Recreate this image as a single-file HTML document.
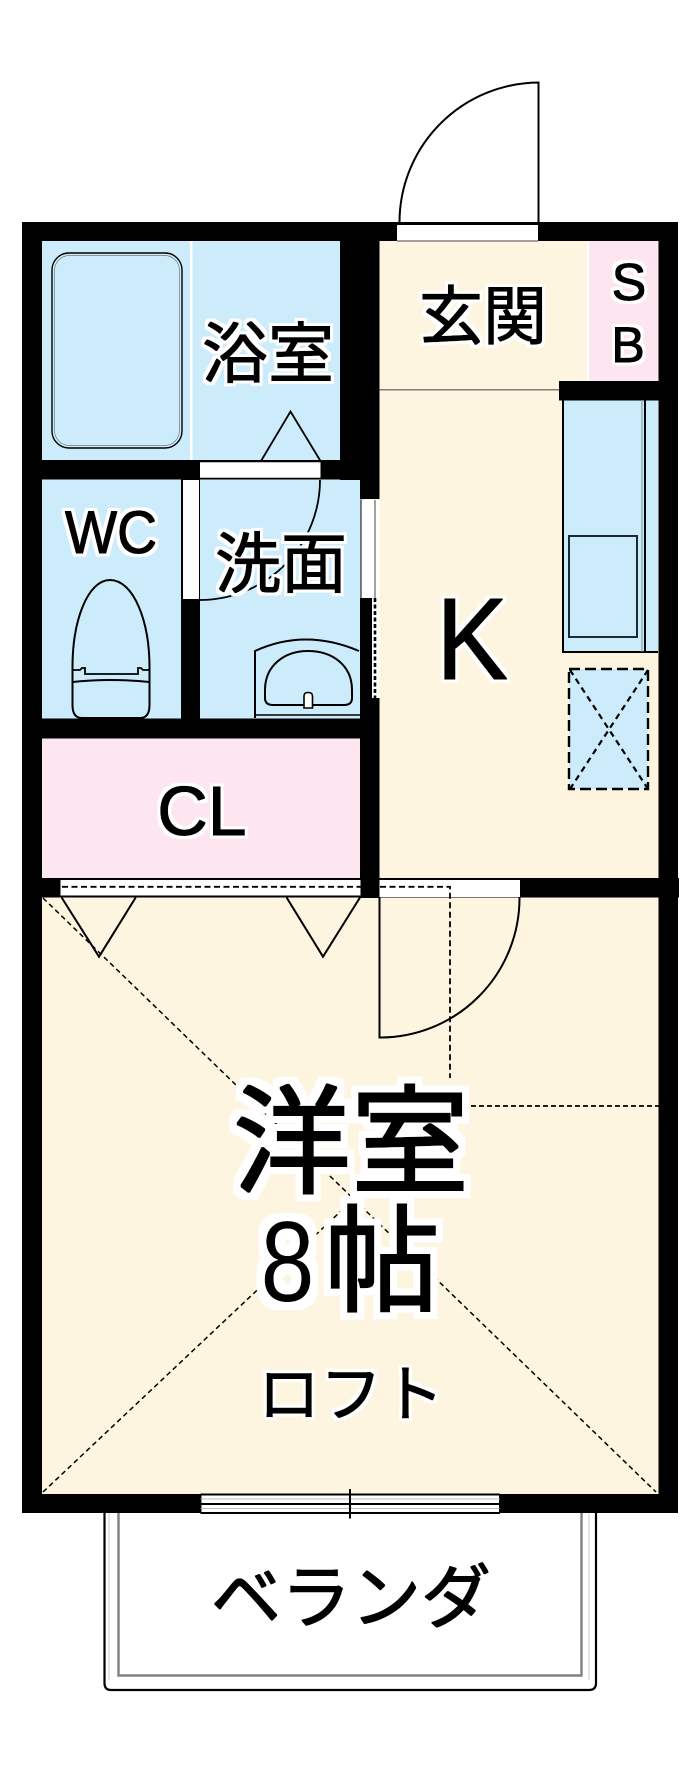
<!DOCTYPE html>
<html lang="ja">
<head>
<meta charset="utf-8">
<title>間取り図</title>
<style>
html,body{margin:0;padding:0;background:#fff}
svg{display:block}
text{font-family:"Liberation Sans","Noto Sans CJK JP",sans-serif;fill:#000}
</style>
</head>
<body>
<svg xmlns="http://www.w3.org/2000/svg" width="700" height="1765" viewBox="0 0 700 1765">
<defs>
<filter id="hs" x="-20%" y="-30%" width="140%" height="160%">
<feMorphology in="SourceAlpha" operator="dilate" radius="3.5" result="d"/>
<feFlood flood-color="#fff"/><feComposite in2="d" operator="in" result="halo"/>
<feMorphology in="SourceGraphic" operator="dilate" radius="0.5" result="b"/>
<feMerge><feMergeNode in="halo"/><feMergeNode in="b"/></feMerge>
</filter>
<filter id="hl" x="-20%" y="-30%" width="140%" height="160%">
<feMorphology in="SourceAlpha" operator="dilate" radius="8" result="d"/>
<feFlood flood-color="#fff"/><feComposite in2="d" operator="in" result="halo"/>
<feMorphology in="SourceGraphic" operator="dilate" radius="1" result="b"/>
<feMerge><feMergeNode in="halo"/><feMergeNode in="b"/></feMerge>
</filter>
<filter id="h8" x="-40%" y="-30%" width="180%" height="160%">
<feMorphology in="SourceAlpha" operator="dilate" radius="8" result="d"/>
<feFlood flood-color="#fff"/><feComposite in2="d" operator="in" result="halo"/>
<feMerge><feMergeNode in="halo"/><feMergeNode in="SourceGraphic"/></feMerge>
</filter>
<filter id="hn" x="-10%" y="-20%" width="120%" height="140%">
<feMorphology in="SourceGraphic" operator="dilate" radius="0.5"/>
</filter>
</defs>
<rect width="700" height="1765" fill="#fff"/>

<!-- room fills -->
<rect x="30" y="230" width="640" height="1275" fill="#fef5e1"/>
<rect x="30" y="230" width="335" height="490" fill="#cdecfb"/>
<rect x="30" y="730" width="340" height="155" fill="#fde6ef"/>
<rect x="589" y="241" width="70" height="145" fill="#fde6ef"/>
<rect x="587" y="241" width="2" height="145" fill="#fff"/>
<rect x="190" y="241" width="2.5" height="220" fill="#fff"/>
<rect x="563" y="400" width="95" height="252" fill="#cdecfb"/>
<rect x="569" y="669" width="79" height="120" fill="#cdecfb"/>

<!-- walls -->
<g fill="#000">
<rect x="22" y="222" width="656" height="19"/>
<rect x="22" y="222" width="20" height="1291"/>
<rect x="658.5" y="222" width="19.5" height="1291"/>
<rect x="22" y="1494" width="656" height="19"/>
<rect x="340" y="222" width="39.5" height="258"/>
<rect x="360" y="479" width="19.5" height="20"/>
<rect x="22" y="460" width="340" height="19.5"/>
<rect x="181" y="479" width="19" height="245"/>
<rect x="22" y="718.5" width="357.5" height="20"/>
<rect x="360" y="598" width="19.5" height="300"/>
<rect x="22" y="878" width="657" height="19.5"/>
<rect x="559" y="381" width="119" height="19.5"/>
</g>

<!-- openings -->
<rect x="397" y="225" width="141" height="16" fill="#fff"/>
<rect x="200" y="462" width="120.5" height="16" fill="#fff"/>
<rect x="183" y="480" width="16" height="119" fill="#fff"/>
<rect x="361" y="500" width="18.5" height="98" fill="#fff"/>
<rect x="372" y="598" width="7.5" height="101" fill="#fff"/>
<rect x="60.5" y="880" width="300" height="16.5" fill="#fff"/>
<rect x="379.5" y="880" width="140.5" height="17" fill="#fff"/>
<rect x="200.5" y="1494" width="299.5" height="19" fill="#fff"/>

<g fill="none" stroke="#000" stroke-width="2">
<!-- entry door -->
<path d="M538.5 222 V82.5 A140 140 0 0 0 399.5 222"/>
<path d="M397 241 H538" stroke="#444" stroke-width="1"/>
<!-- genkan divider -->
<path d="M379.5 389.8 H559" stroke="#555" stroke-width="1.2"/>
<!-- bath tub -->
<rect x="52" y="253" width="130" height="195" rx="17" ry="17" stroke-width="1.4"/>
<rect x="54.5" y="255.5" width="125" height="190" rx="15" ry="15" stroke="#777" stroke-width="0.7"/>
<!-- bath door -->
<path d="M261 461 L290.5 411.5 L320.5 461" stroke-width="1.8"/>
<path d="M200 461.5 H320.5 M200 478.5 H320.5" stroke-width="1.6"/>
<path d="M320 480 A120 120 0 0 1 200 600" stroke-width="1.8"/>
<path d="M361 499.5 V598" stroke="#000" stroke-width="1"/>
<path d="M375 500 V598" stroke="#666" stroke-width="1.2"/>
<path d="M375 598 V698" stroke-width="2.6" stroke-dasharray="4 2.5"/>
<path d="M360 699 H379.5" stroke-width="2"/>
<!-- toilet -->
<path d="M72.5 670 C72 620 88 580 110 580 C133 580 150 620 149.5 670 V705 C149.5 714 146 718 140 718 H82 C76 718 72.5 714 72.5 705 Z" stroke-width="2"/>
<path d="M72.5 670 H80 L82 668 H85 V674 H138 V668 H141 L143 670 H149.5" stroke-width="1.8"/>
<path d="M72.5 682 Q110 678 149.5 682" stroke-width="2"/>
<!-- sink -->
<path d="M255 718 V651 Q305 628 359 651" stroke-width="2"/>
<path d="M255 715 H360" stroke-width="1.6"/>
<path d="M265 690 C265 665 285 651 308 651 C332 651 352 665 352 690 V698 Q352 705 344 705 H273 Q265 705 265 698 Z" stroke-width="2"/>
<path d="M304 708 V696 Q304 692.5 308 692.5 Q312.5 692.5 312.5 696 V708 Z" fill="#fff" stroke-width="1.6"/>
<!-- kitchen -->
<path d="M563 400 V652 H658" stroke-width="2"/>
<path d="M645 400 V652" stroke-width="2"/>
<path d="M642 400 V652" stroke="#7c8f99" stroke-width="1"/>
<rect x="569" y="536" width="68" height="101" stroke="#1b2a33" stroke-width="2"/>
<!-- range dashed box -->
<rect x="569" y="669" width="79" height="120" stroke-width="2.4" stroke-dasharray="11 5"/>
<path d="M570 670 L648 789 M648 670 L570 789" stroke-width="2.2" stroke-dasharray="6 4.5"/>
<!-- closet and door -->
<path d="M60 896.5 H361" stroke-width="2"/>
<path d="M62 886.8 H361 M380 886.8 H450 V1078" stroke-width="1.8" stroke-dasharray="6 3.5"/>
<path d="M471 1106 H659" stroke-width="1.8" stroke-dasharray="5 3"/>
<path d="M61.6 897.5 L99 956.7 L135.7 897.5" stroke-width="2"/>
<path d="M286.6 897.5 L323 956.7 L360 897.5" stroke-width="2"/>
<path d="M379.5 897.5 V1037.5 A139.5 139.5 0 0 0 519.5 897.5" stroke-width="2"/>
<path d="M43 898 L656 1492" stroke-width="1.5" stroke-dasharray="5 3.5"/>
<path d="M43 1492 L358 1195" stroke-width="1.5" stroke-dasharray="5 3.5"/>
<!-- veranda -->
<path d="M104.5 1513 V1683 Q104.5 1690 111 1690 H589 Q596 1690 596 1683 V1513" stroke-width="2.2"/>
<path d="M118.5 1513 V1675.5 H581.5 V1513" stroke="#808080" stroke-width="2.4"/>
<path d="M589 1513 V1680" stroke="#ccc" stroke-width="1"/>
<path d="M109 1513 V1680" stroke="#ccc" stroke-width="1"/>
<!-- window -->
<path d="M200.5 1494.5 H500 M200.5 1504 H500 M200.5 1513 H500 M200.5 1494 V1513 M500 1494 V1513" stroke-width="2"/>
<path d="M200.5 1499 H500 M200.5 1508.5 H500" stroke="#aaa" stroke-width="0.8"/>
<path d="M350 1489 V1518.5" stroke-width="2"/>
</g>

<!-- labels -->
<text x="268" y="377" font-size="66" text-anchor="middle" filter="url(#hs)">浴室</text>
<text x="483" y="339" font-size="64" text-anchor="middle" filter="url(#hs)">玄関</text>
<text x="281" y="587" font-size="66" text-anchor="middle" filter="url(#hs)">洗面</text>
<text x="111" y="553" font-size="60" text-anchor="middle" textLength="92" lengthAdjust="spacingAndGlyphs" filter="url(#hs)">WC</text>
<text x="629" y="300" font-size="52" text-anchor="middle" filter="url(#hs)">S</text>
<text x="628" y="362" font-size="50" text-anchor="middle" filter="url(#hs)">B</text>
<text x="472" y="679" font-size="116" text-anchor="middle" textLength="72" lengthAdjust="spacingAndGlyphs" filter="url(#hs)">K</text>
<text x="202" y="835" font-size="70" text-anchor="middle" filter="url(#hs)">CL</text>
<text x="351" y="1184" font-size="118" text-anchor="middle" filter="url(#hl)">洋室</text>
<text x="287.5" y="1301" font-size="114" text-anchor="middle" textLength="54" lengthAdjust="spacingAndGlyphs" filter="url(#h8)">8</text>
<text x="382" y="1302" font-size="116" text-anchor="middle" filter="url(#hl)">帖</text>
<text x="351" y="1416" font-size="62" text-anchor="middle" filter="url(#hs)">ロフト</text>
<text x="351" y="1622" font-size="70" text-anchor="middle" filter="url(#hn)">ベランダ</text>
</svg>
</body>
</html>
